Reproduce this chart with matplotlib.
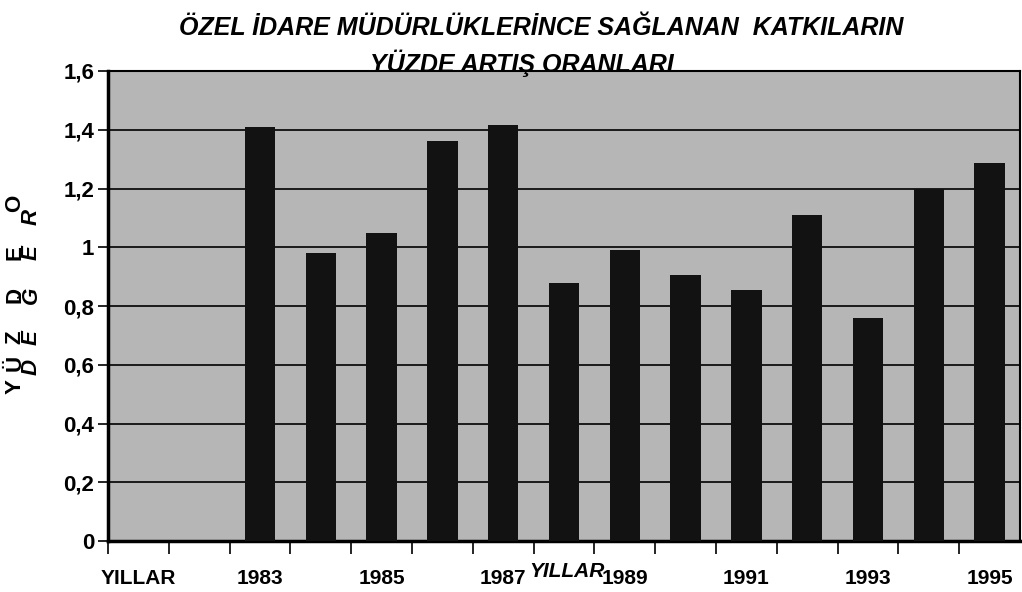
import matplotlib
matplotlib.use("Agg")
import matplotlib.pyplot as plt
from matplotlib import font_manager
from matplotlib.ticker import FixedLocator, FuncFormatter


def pick_font(names):
    for name in names:
        try:
            font_manager.findfont(name, fallback_to_default=False)
            return name
        except Exception:
            continue
    return "DejaVu Sans"


FONT = pick_font(["Liberation Sans Narrow", "Liberation Sans", "DejaVu Sans"])
plt.rcParams["font.family"] = [FONT, "DejaVu Sans"]

# categories as on the original axis (first two slots carry no bar)
categories = ["YILLAR", "", "1983", "1984", "1985", "1986", "1987", "1988",
              "1989", "1990", "1991", "1992", "1993", "1994", "1995"]
values = [0, 0, 1.41, 0.98, 1.05, 1.36, 1.415, 0.878,
          0.99, 0.905, 0.854, 1.11, 0.759, 1.197, 1.286]
yticks = [0, 0.2, 0.4, 0.6, 0.8, 1.0, 1.2, 1.4, 1.6]

title_1 = "ÖZEL İDARE MÜDÜRLÜKLERİNCE SAĞLANAN  KATKILARIN"
title_2 = "YÜZDE ARTIŞ ORANLARI"
ylab_left = ["Y", "Ü", "Z", "D", "E", "O"]
ylab_right = ["D", "E", "Ğ", "E", "R"]

fig = plt.figure(figsize=(10.22, 5.92), dpi=100)
ax = fig.add_axes([108 / 1022, 51 / 592, 912 / 1022, 470 / 592])
ax.set_facecolor("#b6b6b6")

x = list(range(len(categories)))
ax.bar(x, values, width=0.5, color="#121212", zorder=3)

ax.set_xlim(-0.5, len(categories) - 0.5)
ax.set_ylim(0, 1.6)
ax.set_yticks(yticks)
ax.yaxis.set_major_formatter(FuncFormatter(lambda v, p: ("%g" % v).replace(".", ",")))
ax.grid(axis="y", color="black", linewidth=1.2, zorder=1)

# labels on every other category, tick marks on category borders
ax.xaxis.set_major_locator(FixedLocator(x[::2]))
ax.set_xticklabels(categories[::2])
ax.xaxis.set_minor_locator(FixedLocator([i - 0.5 for i in x]))
ax.tick_params(axis="x", which="major", length=0, pad=20, labelsize=15)
ax.tick_params(axis="x", which="minor", length=9, width=1.2, direction="out")
ax.tick_params(axis="y", length=7, width=1.2, labelsize=16, pad=3)
for lab in ax.get_xticklabels() + ax.get_yticklabels():
    lab.set_fontweight("bold")

for side in ["left", "bottom"]:
    ax.spines[side].set_linewidth(2.5)
for side in ["top", "right"]:
    ax.spines[side].set_linewidth(1.5)

fig.text(0.530, 0.953, title_1, ha="center", va="center", fontsize=18,
         fontweight="bold", style="italic")
fig.text(0.511, 0.893, title_2, ha="center", va="center", fontsize=18,
         fontweight="bold", style="italic", zorder=5)

fig.text(0.555, 0.034, "YILLAR", ha="center", va="center", fontsize=15,
         fontweight="bold", style="italic")

# y axis title letters, staggered in two columns as in the original
left_y = [387, 363, 337, 295, 253, 203]
right_y = [367, 338, 295, 253, 217]
for ch, yy in zip(ylab_left, left_y):
    fig.text(15 / 1022, 1 - yy / 592, ch, rotation=90, ha="center", va="center",
             fontsize=16, fontweight="bold", family="Liberation Sans")
for ch, yy in zip(ylab_right, right_y):
    fig.text(31 / 1022, 1 - yy / 592, ch, rotation=90, ha="center", va="center",
             fontsize=16, fontweight="bold", style="italic", family="Liberation Sans")

fig.savefig("out.png", dpi=100)
